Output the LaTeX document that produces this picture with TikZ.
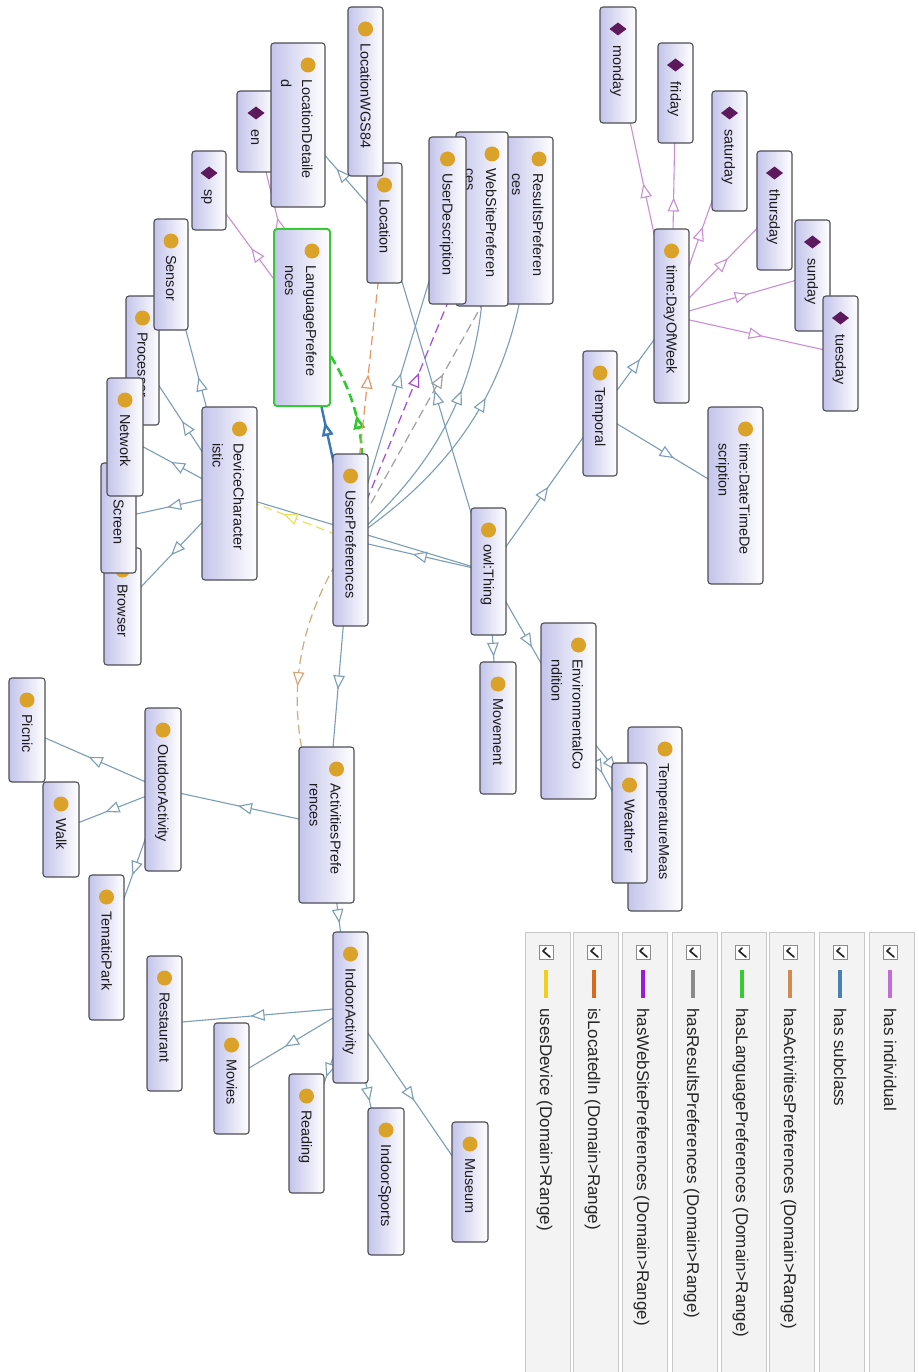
\documentclass[tikz,border=0pt]{standalone}
\usepackage{fontspec}
\setmainfont{Liberation Sans}
\usetikzlibrary{arrows.meta,decorations.markings,calc}
\pgfdeclarelayer{edges}
\pgfsetlayers{edges,main}

% node colours
\definecolor{boxlav}{RGB}{196,196,236}
\definecolor{boxline}{RGB}{78,78,86}
\definecolor{dotc}{RGB}{218,162,40}
\definecolor{indc}{RGB}{92,26,92}
\definecolor{txtc}{RGB}{28,28,28}
\definecolor{selc}{RGB}{56,200,56}
% edge colours
\definecolor{subc}{RGB}{122,158,184}
\definecolor{subhi}{RGB}{58,120,184}
\definecolor{indedge}{RGB}{204,140,214}
\definecolor{actc}{RGB}{212,168,120}
\definecolor{langc}{RGB}{50,200,50}
\definecolor{resc}{RGB}{160,160,160}
\definecolor{webc}{RGB}{168,72,216}
\definecolor{locc}{RGB}{230,150,96}
\definecolor{devc}{RGB}{232,226,96}
% legend colours
\definecolor{lgind}{RGB}{194,108,214}
\definecolor{lgsub}{RGB}{74,128,184}
\definecolor{lgact}{RGB}{209,139,78}
\definecolor{lglang}{RGB}{51,204,51}
\definecolor{lgres}{RGB}{138,138,138}
\definecolor{lgweb}{RGB}{154,26,216}
\definecolor{lgloc}{RGB}{216,106,32}
\definecolor{lgdev}{RGB}{242,207,29}
\definecolor{panelc}{RGB}{243,243,243}
\definecolor{panelline}{RGB}{200,200,200}

\tikzset{
  nodebox/.style={draw=boxline, line width=1.1pt, rounded corners=3pt,
    left color=boxlav, right color=white, inner sep=0pt, outer sep=0pt},
  selbox/.style={draw=selc, line width=2pt},
  lbl/.style={rotate=-90, inner sep=0pt, text=txtc,
    font=\fontsize{14.4}{17}\selectfont},
  leglbl/.style={rotate=-90, inner sep=0pt, text=black!85,
    font=\fontsize{17}{20}\selectfont},
  midarrow/.style={postaction={decorate}, decoration={markings,
    mark=at position 0.5 with {\arrow[xshift=7pt]{Triangle[length=14pt,width=11.5pt,fill=white]}}}},
  subedge/.style={draw=subc, line width=1.1pt, line join=round, midarrow},
  subsel/.style={draw=subhi, line width=2.4pt, midarrow},
  indedge/.style={draw=indedge, line width=1.1pt, midarrow},
  propedge/.style={draw=#1, line width=1.2pt, dash pattern=on 9pt off 5pt, midarrow},
  legpanel/.style={fill=panelc, draw=panelline, line width=0.8pt},
  checkbox/.style={fill=white, draw=black!45, line width=0.7pt},
  checkmk/.style={draw=black!85, line width=1.7pt, line cap=round, line join=round},
}

% class with a one-line label: name, x1, y1, x2, y2, text
\newcommand\clsA[6]{%
  \node[nodebox, minimum width={(#4-#2)*1pt}, minimum height={(#5-#3)*1pt}]
    (#1) at ({(#2+#4)/2},{(#3+#5)/2}) {};
  \fill[dotc] ({(#2+#4)/2},{#3+22}) circle[radius=7.5pt];
  \node[lbl, anchor=base west] (#1-t) at ({(#2+#4)/2-5},{#3+36}) {#6};
}
% class with a two-line label: [extra style] name, x1, y1, x2, y2, line 1, line 2
\newcommand\clsB[8][]{%
  \node[nodebox, #1, minimum width={(#5-#3)*1pt}, minimum height={(#6-#4)*1pt}]
    (#2) at ({(#3+#5)/2},{(#4+#6)/2}) {};
  \fill[dotc] ({(#3+#5)/2+10},{#4+22}) circle[radius=7.5pt];
  \node[lbl, anchor=base west] (#2-t) at ({(#3+#5)/2+4},{#4+36}) {#7};
  \node[lbl, anchor=base west] (#2-u) at ({(#3+#5)/2-17},{#4+36}) {#8};
}
% individual: name, x1, y1, x2, y2, text
\newcommand\indv[6]{%
  \node[nodebox, minimum width={(#4-#2)*1pt}, minimum height={(#5-#3)*1pt}]
    (#1) at ({(#2+#4)/2},{(#3+#5)/2}) {};
  \fill[indc] ({(#2+#4)/2-8.5},{#3+22}) -- ({(#2+#4)/2},{#3+15.5})
    -- ({(#2+#4)/2+8.5},{#3+22}) -- ({(#2+#4)/2},{#3+28.5}) -- cycle;
  \node[lbl, anchor=base west] (#1-t) at ({(#2+#4)/2-5},{#3+38}) {#6};
}
% legend column: name, centre x, colour, text
\newcommand\legcol[4]{%
  \draw[legpanel] ({#2-21},932) rectangle ({#2+24},1380);
  \draw[checkbox] ({#2-7},945) rectangle ({#2+7},959);
  \draw[checkmk] ({#2},948) -- ({#2-3},951) -- ({#2+4},957);
  \fill[#3] ({#2-2.3},970) rectangle ({#2+2.3},998);
  \node[leglbl, anchor=base west] (#1) at ({#2-6},1008) {#4};
}

\begin{document}
\begin{tikzpicture}[x=1pt, y=-1pt]
\begin{pgfonlayer}{edges}
  \fill[white] (0,0) rectangle (918,1372);
\end{pgfonlayer}
\useasboundingbox (0,0) rectangle (918,1372);

% ---------- classes and individuals ----------
\indv{en}{237}{91}{275}{172}{en}
\clsB{locdet}{271}{43}{325}{207}{LocationDetaile}{d}
\clsA{loc}{367}{163}{402}{283}{Location}
\clsA{wgs}{348}{7}{383}{176}{LocationWGS84}
\indv{sp}{192}{151}{226}{230}{sp}
\clsA{browser}{104}{548}{141}{665}{Browser}
\clsA{screen}{101}{463}{136}{573}{Screen}
\clsA{proc}{126}{296}{159}{425}{Processor}
\clsA{netw}{107}{378}{143}{496}{Network}
\clsA{sensor}{154}{219}{188}{330}{Sensor}
\clsB{devch}{202}{407}{257}{580}{DeviceCharacter}{istic}
\clsB[selbox]{langp}{274}{229}{330}{406}{LanguagePrefere}{nces}
\clsB{resp}{505}{137}{553}{304}{ResultsPreferen}{ces}
\clsB{webp}{456}{132}{508}{306}{WebSitePreferen}{ces}
\clsA{udesc}{429}{137}{466}{304}{UserDescription}
\clsA{userp}{333}{454}{368}{626}{UserPreferences}
\clsA{thing}{471}{508}{506}{635}{owl:Thing}
\clsA{temporal}{583}{351}{617}{476}{Temporal}
\clsA{dow}{654}{229}{689}{403}{time:DayOfWeek}
\clsB{dtd}{708}{407}{763}{584}{time:DateTimeDe}{scription}
\indv{monday}{600}{7}{636}{123}{monday}
\indv{friday}{658}{43}{693}{143}{friday}
\indv{saturday}{712}{91}{747}{211}{saturday}
\indv{thursday}{757}{151}{792}{270}{thursday}
\indv{sunday}{795}{220}{830}{331}{sunday}
\indv{tuesday}{823}{296}{858}{411}{tuesday}
\clsA{movement}{480}{662}{516}{794}{Movement}
\clsB{envc}{541}{623}{596}{799}{EnvironmentalCo}{ndition}
\clsB{tempm}{628}{727}{682}{911}{TemperatureMeas}{}
\clsA{weather}{612}{763}{647}{883}{Weather}
\clsB{actp}{299}{747}{354}{903}{ActivitiesPrefe}{rences}
\clsA{outdoor}{145}{708}{181}{871}{OutdoorActivity}
\clsA{picnic}{9}{678}{45}{782}{Picnic}
\clsA{walk}{43}{782}{79}{877}{Walk}
\clsA{tematic}{89}{875}{124}{1020}{TematicPark}
\clsA{indoor}{333}{932}{368}{1083}{IndoorActivity}
\clsA{restaurant}{147}{956}{182}{1091}{Restaurant}
\clsA{movies}{214}{1023}{249}{1134}{Movies}
\clsA{reading}{289}{1074}{324}{1193}{Reading}
\clsA{isports}{368}{1108}{404}{1255}{IndoorSports}
\clsA{museum}{452}{1122}{488}{1242}{Museum}

% ---------- connectors (beneath the boxes) ----------
\begin{pgfonlayer}{edges}
  % has subclass
  \foreach \s/\t in {thing/userp, thing/devch, thing/loc, thing/temporal,
      thing/movement, thing/envc, devch/sensor, devch/proc, devch/netw,
      devch/screen, devch/browser, loc/wgs, loc/locdet, userp/udesc,
      userp/actp, temporal/dow, temporal/dtd, envc/tempm, envc/weather,
      actp/outdoor, actp/indoor, outdoor/picnic, outdoor/walk,
      outdoor/tematic, indoor/restaurant, indoor/movies, indoor/reading,
      indoor/isports, indoor/museum}
    {\draw[subedge] (\s.center) -- (\t.center);}
  \draw[subedge] (userp.center) to[bend right=27] (webp.center);
  \draw[subedge] (userp.center) to[bend right=27] (resp.center);
  \draw[subsel] (userp.center) -- (langp.center);
  % has individual
  \foreach \t in {monday, friday, saturday, thursday, sunday, tuesday}
    {\draw[indedge] (dow.center) -- (\t.center);}
  \draw[indedge] (langp.center) -- (sp.center);
  \draw[indedge] (langp.center) -- (en.center);
  % object properties
  \draw[propedge=langc, line width=2.6pt] (userp.center) to[bend right=29] (langp.center);
  \draw[propedge=locc] (userp.center) -- (loc.center);
  \draw[propedge=webc] (userp.center) -- (webp.center);
  \draw[propedge=resc] (userp.center) -- (resp.center);
  \draw[propedge=devc] (userp.center) -- (devch.center);
  \draw[propedge=actc] (userp.center) to[bend right=29] (actp.center);
\end{pgfonlayer}

% ---------- legend ----------
\legcol{lg1}{546}{lgdev}{usesDevice (Domain>Range)}
\legcol{lg2}{594}{lgloc}{isLocatedIn (Domain>Range)}
\legcol{lg3}{643}{lgweb}{hasWebSitePreferences (Domain>Range)}
\legcol{lg4}{693}{lgres}{hasResultsPreferences (Domain>Range)}
\legcol{lg5}{742}{lglang}{hasLanguagePreferences (Domain>Range)}
\legcol{lg6}{790}{lgact}{hasActivitiesPreferences (Domain>Range)}
\legcol{lg7}{840}{lgsub}{has subclass}
\legcol{lg8}{890}{lgind}{has individual}
\end{tikzpicture}
\end{document}
